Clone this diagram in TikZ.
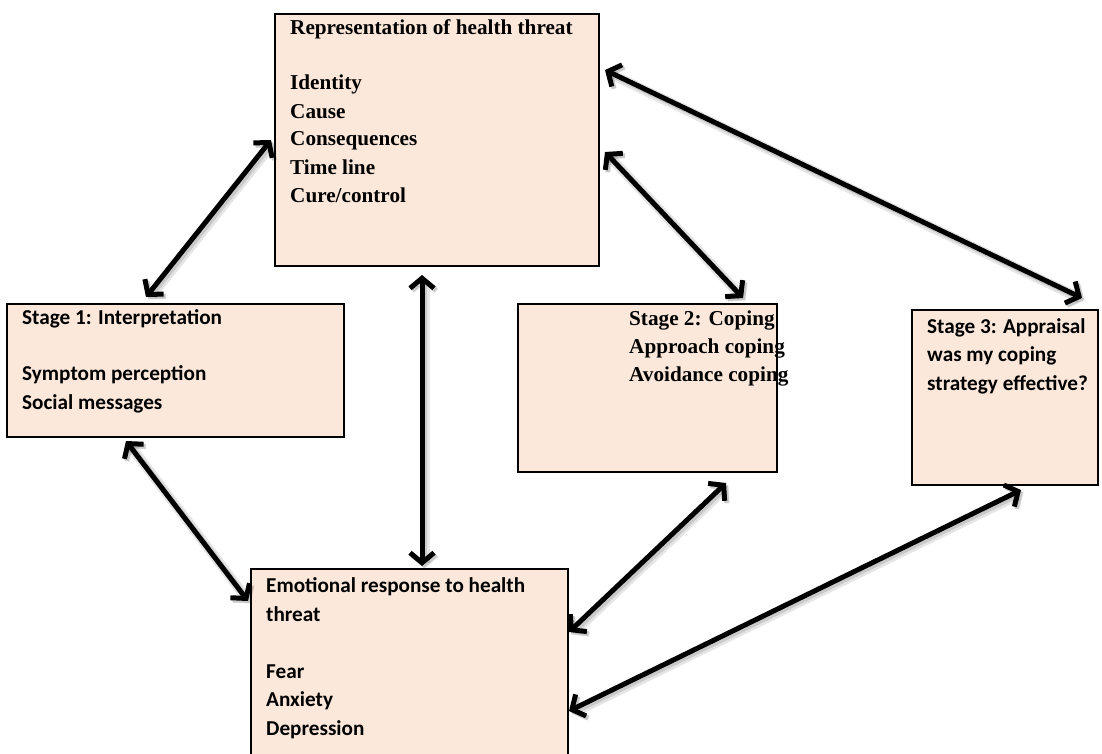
\documentclass[tikz,border=0pt]{standalone}
\usepackage{fontspec}
\setmainfont{Liberation Serif}
\newfontfamily\calibrifont{Carlito}
\usetikzlibrary{arrows.meta,calc}
\definecolor{peach}{HTML}{FCE8DB}
\begin{document}
\begin{tikzpicture}[x=1pt,y=-1pt,
  panel/.style={draw=black,line width=2pt,fill=peach,rectangle,inner sep=0pt},
  % texts are placed by the baseline of their last line
  serifbody/.style={anchor=base west,inner sep=0pt,align=left,
    font=\bfseries\fontsize{21.2}{28}\selectfont},
  sansbody/.style={anchor=base west,inner sep=0pt,align=left,
    font=\calibrifont\bfseries\fontsize{21.2}{28.5}\selectfont},
  barb/.tip={Straight Barb[length=10pt,width=24pt,line width=5pt]},
  link/.style={line width=5pt,line cap=round,barb-barb,
    preaction={draw=black,opacity=.10,line width=10pt,transform canvas={xshift=2.5pt,yshift=-2.5pt}},
    preaction={draw=black,opacity=.12,line width=6pt,transform canvas={xshift=2pt,yshift=-2pt}}}
]
\useasboundingbox (0,0) rectangle (1102,754);

% boxes
\node[panel,minimum width=324pt,minimum height=252pt] (rep) at (437,140) {};
\node[panel,minimum width=337pt,minimum height=133pt] (s1) at (175.5,370.5) {};
\node[panel,minimum width=259pt,minimum height=168pt] (s2) at (647.5,388) {};
\node[panel,minimum width=186pt,minimum height=175pt] (s3) at (1005,397.5) {};
\node[panel,minimum width=317pt,minimum height=211pt] (emo) at (409.5,674.5) {};

% box texts
\node[serifbody] (reptxt) at (290,202) {Representation of health threat\\[27pt]Identity\\Cause\\Consequences\\Time line\\Cure/control};
\node[sansbody] (s1txt) at (22,409) {Stage 1: Interpretation\\[27.5pt]Symptom perception\\Social messages};
\node[serifbody] (s2txt) at (629,381) {Stage 2: Coping\\Approach coping\\Avoidance coping};
\node[sansbody] (s3txt) at (927,390) {Stage 3: Appraisal\\was my coping\\strategy effective?};
\node[sansbody] (emotxt) at (266,735) {Emotional response to health\\threat\\[28.5pt]Fear\\Anxiety\\Depression};

% two-way links
\draw[link] ([xshift=-3pt,yshift=-127pt]rep.north west) -- ([xshift=140pt,yshift=6pt]s1.north west);
\draw[link] ([xshift=-15pt,yshift=-8pt]rep.south) -- ([xshift=12.5pt,yshift=2pt]emo.north);
\draw[link] ([xshift=5pt,yshift=-139pt]rep.north east) -- ([xshift=226pt,yshift=5pt]s2.north west);
\draw[link] ([xshift=5pt,yshift=-57pt]rep.north east) -- ([xshift=171pt,yshift=11pt]s3.north west);
\draw[link] ([xshift=120pt,yshift=-3pt]s1.south west) -- ([xshift=-2pt,yshift=-33pt]emo.north west);
\draw[link] ([xshift=209pt,yshift=-10pt]s2.south west) -- ([yshift=-64pt]emo.north east);
\draw[link] ([xshift=110pt,yshift=-4pt]s3.south west) -- ([yshift=-143pt]emo.north east);
\end{tikzpicture}
\end{document}
